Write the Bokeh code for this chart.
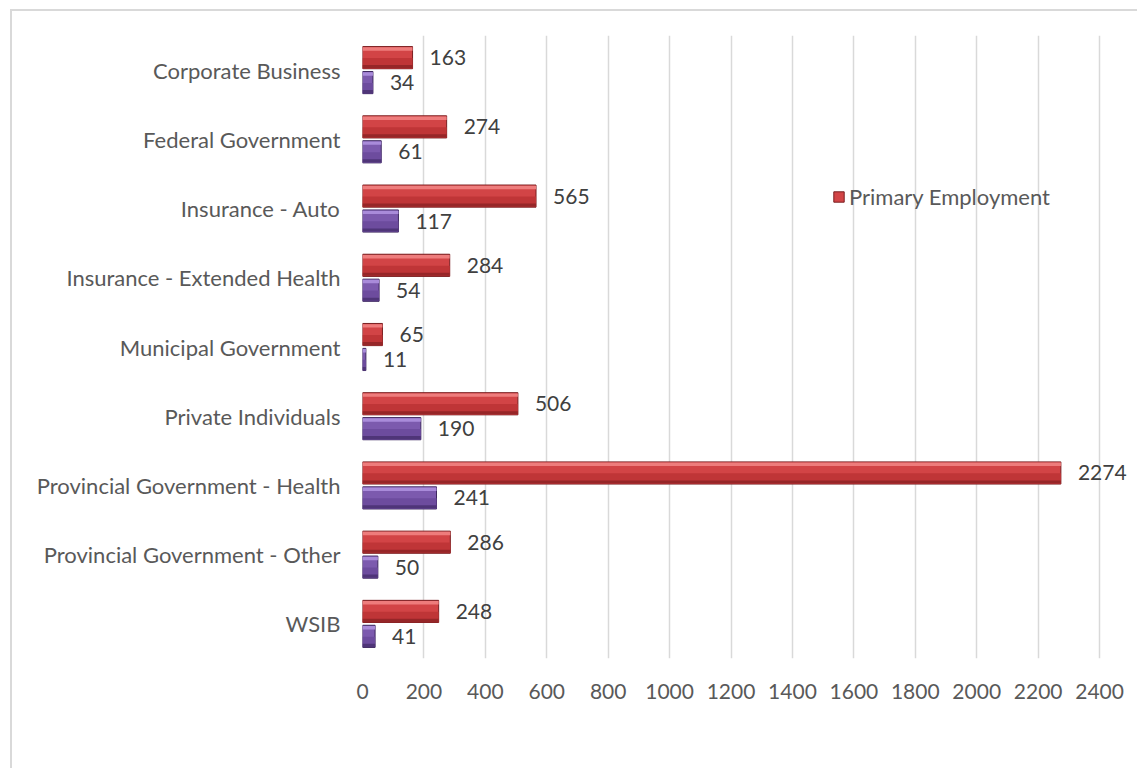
from bokeh.plotting import figure
from bokeh.models import (ColumnDataSource, Range1d, FactorRange, FixedTicker, Legend,
                          LegendItem)
from bokeh.transform import dodge
from bokeh.core.properties import value
from bokeh.embed import file_html
from bokeh.resources import INLINE

categories = ["Corporate Business", "Federal Government", "Insurance - Auto",
              "Insurance - Extended Health", "Municipal Government", "Private Individuals",
              "Provincial Government - Health", "Provincial Government - Other", "WSIB"]
primary = [163, 274, 565, 284, 65, 506, 2274, 286, 248]
secondary = [34, 61, 117, 54, 11, 190, 241, 50, 41]
x_ticks = [0, 200, 400, 600, 800, 1000, 1200, 1400, 1600, 1800, 2000, 2200, 2400]
legend_label = "Primary Employment"

src = ColumnDataSource(dict(cat=categories, primary=primary, secondary=secondary,
                            plab=[str(v) for v in primary], slab=[str(v) for v in secondary]))

FONT = "Lato"
FS = "21px"
FS_CAT = "22px"
W, H = 1127, 759
p = figure(width=W, height=H, output_backend="svg", toolbar_location=None,
           x_range=Range1d(0, 2530), y_range=FactorRange(factors=list(reversed(categories)),
                                                       range_padding=0),
           min_border_left=350, min_border_right=0, min_border_top=24, min_border_bottom=112)
p.outline_line_color = None
p.background_fill_color = "white"
p.border_fill_color = "white"
# outer chart border (chart area starts at 10,9 and runs off the page)
p.styles = {"margin-left": "10px", "margin-top": "9px",
            "border-left": "2px solid #D9D9D9", "border-top": "2px solid #D9D9D9"}

OFF = 0.18
BH = 0.32

def bevel_bar(field, off, base, light, mid_dark, dark, edge):
    r = p.hbar(y=dodge("cat", off, range=p.y_range), right=field, left=0, height=BH,
               source=src, fill_color=base, line_color=edge, line_width=1)
    # lower half slightly darker (gradient feel)
    p.hbar(y=dodge("cat", off - BH / 4, range=p.y_range), right=field, left=0,
           height=BH / 2 - 0.01, source=src, fill_color=mid_dark, line_color=None)
    # top highlight
    p.hbar(y=dodge("cat", off + BH / 2 - 0.035, range=p.y_range), right=field, left=0,
           height=0.05, source=src, fill_color=light, line_color=None)
    # bottom dark edge
    p.hbar(y=dodge("cat", off - BH / 2 + 0.03, range=p.y_range), right=field, left=0,
           height=0.045, source=src, fill_color=dark, line_color=None)
    return r

r_primary = bevel_bar("primary", OFF, "#D24446", "#EE7C7C", "#BF3537", "#962628", "#7A1E20")
r_secondary = bevel_bar("secondary", -OFF, "#7C5AAE", "#A98BDA", "#6D4C9E", "#4F3578", "#3E2860")

p.text(x="primary", y=dodge("cat", OFF, range=p.y_range), text="plab", source=src,
       x_offset=17, text_baseline="middle", text_align="left", text_font=value(FONT),
       text_font_size=FS, text_color="#404040")
p.text(x="secondary", y=dodge("cat", -OFF, range=p.y_range), text="slab", source=src,
       x_offset=17, text_baseline="middle", text_align="left", text_font=value(FONT),
       text_font_size=FS, text_color="#404040")

# axes
p.xaxis.ticker = FixedTicker(ticks=x_ticks)
p.xaxis.axis_line_color = None
p.xaxis.major_tick_line_color = None
p.xaxis.minor_tick_line_color = None
p.xaxis.major_label_standoff = 19
p.xaxis.major_label_text_font = FONT
p.xaxis.major_label_text_font_size = FS
p.xaxis.major_label_text_color = "#595959"

p.yaxis.axis_line_color = None
p.yaxis.major_tick_line_color = None
p.yaxis.minor_tick_line_color = None
p.yaxis.major_label_standoff = 16
p.yaxis.major_label_text_font = FONT
p.yaxis.major_label_text_font_size = FS_CAT
p.yaxis.major_label_text_color = "#595959"

p.xgrid.grid_line_color = "#D9D9D9"
p.xgrid.grid_line_width = 1.5
p.ygrid.grid_line_color = None

legend = Legend(items=[LegendItem(label=legend_label, renderers=[r_primary])],
                location=(470, 448), orientation="vertical",
                label_text_font=FONT, label_text_font_size=FS_CAT, label_text_color="#595959",
                glyph_width=13, glyph_height=13, label_standoff=4, padding=0, margin=0,
                spacing=0, border_line_color=None, background_fill_alpha=0)
p.add_layout(legend)

open("out.html", "w").write(file_html(p, INLINE))
